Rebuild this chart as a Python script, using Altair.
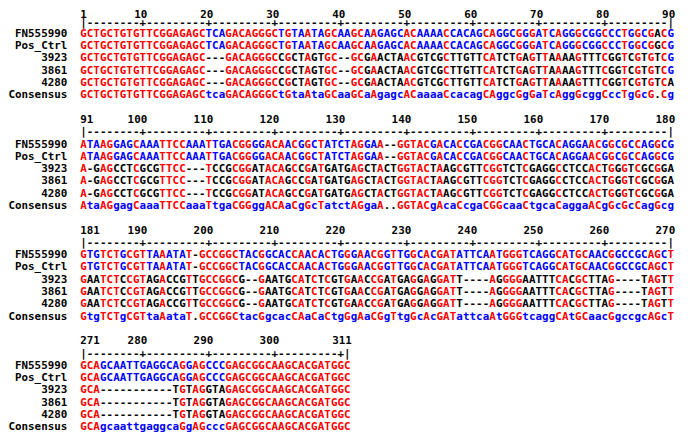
import altair as alt
import pandas as pd

NAMES = ["FN555990", "Pos_Ctrl", "3923", "3861", "4280", "Consensus"]
BLOCK_STARTS = [1, 91, 181, 271]
SEQ_LEN = 311

FN555990 = (
    "GCTGCTGTGTTCGGAGAGCTCAGACAGGGCTGTAATAGCAAGCAAGAGCACAAAACCACAGCAGGCGGGATCAGGGCGGCCCTGGCGACG"
    "ATAAGGAGCAAATTCCAAATTGACGGGGACA" "ACGGCTATCTAGGAA--GGTACGACACCGA" "CGGCAACTGCACAGGAACGGCGCCAGGCG"
    "GTGTCTGCGTTAAATAT-GCCGGCTACGGCA" "CCAACACTGGGAACGGTTGGCACGATATTC" "AATGGGTCAGGCATGCAACGGCCGCAGCT"
    "GCAGCAATTGAGGCAGGAGCCCGAGCGGCAAGCACGATGGC"
)
POS_CTRL = (
    "GCTGCTGTGTTCGGAGAGCTCAGACAGGGCTGTAATAGCAAGCAAGAGCACAAAACCACAGCAGGCGGGATCAGGGCGGCCCTGGCGGCG"
    "ATAAGGAGCAAATTCCAAATTGACGGGGACA" "ACGGCTATCTAGGAA--GGTACGACACCGA" "CGGCAACTGCACAGGAACGGCGCCAGGCG"
    "GTGTCTGCGTTAAATAT-GCCGGCTACGGCA" "CCAACACTGGGAACGGTTGGCACGATATTC" "AATGGGTCAGGCATGCAACGGCCGCAGCT"
    "GCAGCAATTGAGGCAGGAGCCCGAGCGGCAAGCACGATGGC"
)
S3923 = (
    "GCTGCTGTGTTCGGAGAGC" "---" "GACAGGGC" "C" "GCTAGTGC--GCGAACTAACGTCGCTTGTTCA" "TCTGAGTTAAAAGTTTCGGTCGTGTCG"
    "A-GAGCCTCGCGTTCC---TCCGCGGATACA" "GCCGATGATGAGCTACTGGTACTAAGCGTT" "CGGTCTCGAGGCCTCCACTGGGTCGCGGA"
    "GAATCTCCGTAGACCGTTGCCGGCG--GAAT" "GCATCTCGTGAACCGATGAGGAGGATT---" "-AGGGGAATTTCACGCTTAG----TAGTT"
    "GCA-----------TGTAGGTAGAGCGGCAAGCACGATGGC"
)
S3861 = (
    "GCTGCTGTGTTCGGAGAGC" "---" "GACAGGGC" "C" "GCTAGTGC--GCGAACTAACGTCGCTTGTTCA" "TCTGAGTTAAAAGTTTCGGTCGTGTCG"
    "A-GAGCCTCGCGTTCC---TCCGCGGATACA" "GCCGATGATGAGCTACTGGTACTAAGCGTT" "CGGTCTCGAGGCCTCCACTGGGTCGCGGA"
    "GAATCTCCGTAGACCGTTGCCGGCG--GAAT" "GCATCTCGTGAACCGATGAGGAGGATT---" "-AGGGGAATTTCACGCTTAG----TAGTT"
    "GCA-----------TGTAGGTAGAGCGGCAAGCACGATGGC"
)
S4280 = (
    "GCTGCTGTGTTCGGAGAGC" "---" "GACAGGGC" "C" "GCTAGTGC--GCGAACTAACGTCGCTTGTTCA" "TCTGAGTTAAAAGTTTCGGTCGTGTCA"
    "A-GAGCCTCGCGTTCC---TCCGCGGATACA" "GCCGATGATGAGCTACTGGTACTAAGCGTT" "CGGTCTCGAGGCCTCCACTGGGTCGCGGA"
    "GAATCTCCGTAGACCGTTGCCGGCG--GAAT" "GCATCTCGTGAACCGATGAGGAGGATT---" "-AGGGGAATTTCACGCTTAG----TAGTT"
    "GCA-----------TGTAGGTAGAGCGGCAAGCACGATGGC"
)
CONSENSUS = (
    "GCTGCTGTGTTCGGAGAGC" "tca" "GACAGGGC" "t" "GtaAtaGCaaGCaAgagcACaaaaCcacagCA" "ggcGgGaTcAggGcggCccTgGcG.Cg"
    "AtaAGgagCaaaTTCCaaaTtgaCGGggACA" "aCgGcTatctAGgaA..GGTACgAcaCcga" "CGGcaaCtgcaCaggaACgGcGcCagGcg"
    "GtgTCTgCGTtaAataT.GCCGGCtacGgca" "cCAaCaCtgGgAaCGgTtgGcAcGATattc" "aAtGGGtcaggCAtGCaacGgccgcAGcT"
    "GCAgcaattgaggcaGgAGcccGAGCGGCAAGCACGATGGC"
)

ROWS = [FN555990, POS_CTRL, S3923, S3861, S4280, CONSENSUS]
for r in ROWS:
    assert len(r) == SEQ_LEN, len(r)

RED, BLUE, BLACK = "#ff0000", "#0000ff", "#000000"


def char_color(ch, cons, is_cons):
    if is_cons:
        if cons.isupper():
            return RED
        if cons.islower():
            return BLUE
        return BLACK
    if cons.isupper():
        return RED if ch == cons else BLACK
    if cons.islower() and ch.upper() == cons.upper():
        return BLUE
    return BLACK


chars, names, ruler, nums = [], [], [], []
for b, start in enumerate(BLOCK_STARTS):
    end = min(start + 89, SEQ_LEN)
    base = 9 * b
    num_line = 0.46 if b == 0 else base
    ruler_line = 1.14 if b == 0 else base + 1
    for i, (nm, seq) in enumerate(zip(NAMES, ROWS)):
        names.append(dict(name=nm, line=base + 2 + i))
        for p in range(start, end + 1):
            ch = seq[p - 1]
            cons = CONSENSUS[p - 1]
            chars.append(dict(col=p - start + 1, line=base + 2 + i, ch=ch,
                              color=char_color(ch, cons, i == len(ROWS) - 1)))
    for p in range(start, end + 1):
        if p == start or p == end:
            rc = "|"
        elif p % 10 == 0:
            rc = "+"
        else:
            rc = "-"
        ruler.append(dict(col=p - start + 1, line=ruler_line, ch=rc))
    nums.append(dict(col=1, line=num_line, label=str(start), side="left"))
    for m in range(start + 1, end):
        if m % 10 == 0 and end - m >= 5:
            nums.append(dict(col=m - start + 1, line=num_line, label=str(m), side="right"))
    nums.append(dict(col=end - start + 1, line=num_line, label=str(end), side="right"))

chars_df = pd.DataFrame(chars)
names_df = pd.DataFrame(names)
ruler_df = pd.DataFrame(ruler)
nums_df = pd.DataFrame(nums)

FONT = "DejaVu Sans Mono"
xs = alt.X("col:Q", scale=alt.Scale(domain=[1, 90], range=[76.3, 670.6], nice=False, zero=False), axis=None)
ys = alt.Y("line:Q", scale=alt.Scale(domain=[0, 34], range=[1.82, 424.8], nice=False, zero=False), axis=None)

txt = dict(font=FONT, fontSize=11, fontWeight="bold", baseline="alphabetic")

seq_layer = alt.Chart(chars_df).mark_text(align="center", **txt).encode(
    x=xs, y=ys, text="ch:N", color=alt.Color("color:N", scale=None)
)
ruler_layer = alt.Chart(ruler_df).mark_text(align="center", color="black", **txt).encode(
    x=xs, y=ys, text="ch:N"
)
num_right = alt.Chart(nums_df).transform_filter("datum.side == 'right'").mark_text(
    align="right", dx=4.5, color="black", **txt
).encode(x=xs, y=ys, text="label:N")
num_left = alt.Chart(nums_df).transform_filter("datum.side == 'left'").mark_text(
    align="left", dx=-3.3, color="black", **txt
).encode(x=xs, y=ys, text="label:N")
name_layer = alt.Chart(names_df).mark_text(align="right", color="black", **txt).encode(
    x=alt.value(60), y=ys, text="name:N"
)

chart = alt.layer(seq_layer, ruler_layer, num_right, num_left, name_layer).properties(
    width=682, height=428, autosize=alt.AutoSizeParams(type="none"), padding=0, background="white"
).configure_view(stroke=None)

chart.save("out.html", embed_options={"renderer": "svg", "actions": False})
